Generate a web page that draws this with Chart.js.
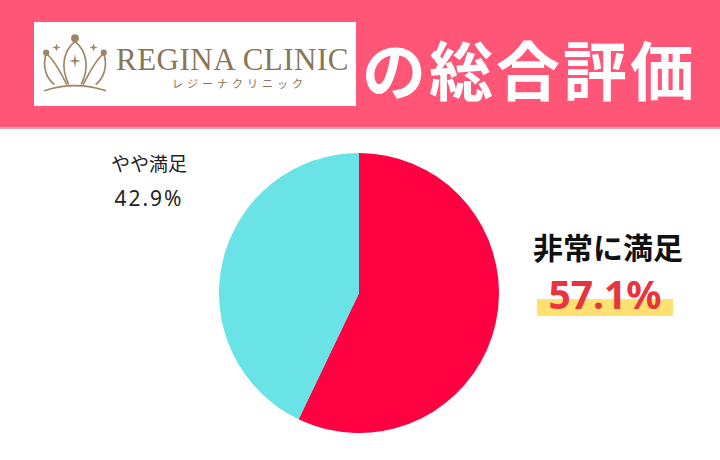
<!DOCTYPE html>
<html>
<head>
<meta charset="utf-8">
<script src="https://cdn.jsdelivr.net/npm/chart.js@4"></script>
<style>
  body { margin: 0; width: 720px; height: 460px; background: #fff; position: relative; overflow: hidden;
         font-family: "Noto Sans CJK JP", "Noto Sans", sans-serif; }
  .header { position: absolute; left: 0; top: 0; width: 720px; height: 127px; background: #ff5577;
            border-bottom: 2px solid #e6a5b3; }
  .logo { position: absolute; left: 34px; top: 22px; width: 322px; height: 84px; background: #fff; }
  .logo svg { position: absolute; left: 6px; top: 10px; }
  .logo .en { position: absolute; left: 82px; top: 20px; font-family: "Liberation Serif", serif;
              font-size: 31px; color: #8a7556; letter-spacing: 0.5px; }
  .logo .kana { position: absolute; left: 138px; top: 53px; font-size: 11px; color: #8a7556; letter-spacing: 4px; }
  .title { position: absolute; left: 362px; top: 24px; font-size: 64px; font-weight: bold; color: #fff;
           line-height: 86px; letter-spacing: 3px; }
  #wrap { position: absolute; left: 219px; top: 153px; width: 280px; height: 280px; }
  .lab { position: absolute; text-align: center; }
  .l1 { left: 96px; top: 145px; width: 106px; font-size: 19px; color: #222; line-height: 35px; }
  .l1 span { font-family: "Noto Sans", sans-serif; font-size: 21px; letter-spacing: 2px; }
  .l2 { left: 518px; top: 224px; width: 180px; font-size: 30px; font-weight: bold; color: #111; }
  .pct { position: absolute; left: 537px; top: 272px; width: 136px; height: 46px; }
  .pct .hl { position: absolute; left: 0; top: 27px; width: 136px; height: 17px; background: #ffe070; }
  .pct .num { position: absolute; left: 0; top: -5px; width: 136px; text-align: center; font-size: 39px;
              font-weight: bold; color: #e8343c; font-family: "Noto Sans", sans-serif; }
</style>
</head>
<body>
<div class="header">
  <div class="logo">
    <svg width="70" height="66" viewBox="0 0 68 62" fill="none" stroke="#a08563" stroke-width="1.6">
      <circle cx="34" cy="5" r="3" fill="#a08563"/>
      <path d="M34 8 C22 18 20 34 28 50 M34 8 C46 18 48 34 40 50"/>
      <path d="M6 20 C12 24 18 34 26 50 M62 20 C56 24 50 34 42 50"/>
      <path d="M6 20 C2 32 6 44 14 50 M62 20 C66 32 62 44 54 50"/>
      <circle cx="6" cy="19" r="2.2" fill="#a08563"/>
      <circle cx="62" cy="19" r="2.2" fill="#a08563"/>
      <path d="M4 56 Q34 46 64 56"/>
      <path d="M34 20 L35 26 L40 27 L35 28 L34 34 L33 28 L28 27 L33 26 Z" fill="#a08563" stroke="none"/>
      <path d="M16 10 L17 13 L20 14 L17 15 L16 18 L15 15 L12 14 L15 13 Z" fill="#a08563" stroke="none"/>
      <path d="M52 10 L53 13 L56 14 L53 15 L52 18 L51 15 L48 14 L51 13 Z" fill="#a08563" stroke="none"/>
    </svg>
    <div class="en">REGINA CLINIC</div>
    <div class="kana">レジーナクリニック</div>
  </div>
  <div class="title">の総合評価</div>
</div>
<div id="wrap"><canvas id="pie"></canvas></div>
<div class="lab l1">やや満足<br><span>42.9%</span></div>
<div class="lab l2">非常に満足</div>
<div class="pct"><div class="hl"></div><div class="num">57.1%</div></div>
<script>
const categories = ["非常に満足", "やや満足"];
const values = [57.1, 42.9];
const sliceColors = ["#ff0040", "#6ae3e6"];

new Chart(document.getElementById("pie"), {
  type: "pie",
  data: {
    labels: categories,
    datasets: [{ data: values, backgroundColor: sliceColors, borderWidth: 0 }]
  },
  options: {
    responsive: true,
    maintainAspectRatio: false,
    animation: false,
    layout: { padding: 0 },
    plugins: { legend: { display: false }, tooltip: { enabled: false } }
  }
});
</script>
</body>
</html>
